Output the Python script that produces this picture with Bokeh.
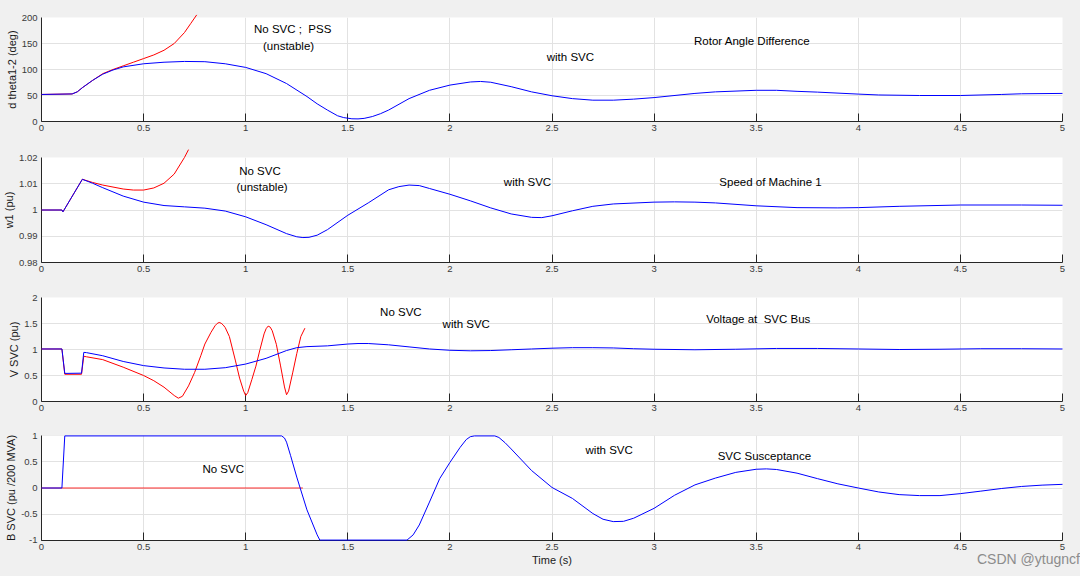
from bokeh.plotting import figure
from bokeh.layouts import column
from bokeh.models import Range1d, FixedTicker, Label, Div
from bokeh.embed import file_html
from bokeh.resources import INLINE

# ---------------- data ----------------
x_ticks = [0, 0.5, 1, 1.5, 2, 2.5, 3, 3.5, 4, 4.5, 5]
x_tick_labels = ["0", "0.5", "1", "1.5", "2", "2.5", "3", "3.5", "4", "4.5", "5"]

# Panel 1: rotor angle difference d theta1-2 (deg)
ang_ticks = [0, 50, 100, 150, 200]
ang_tick_labels = ["0", "50", "100", "150", "200"]
t_ang_svc = [0, 0.15, 0.175, 0.2, 0.25, 0.3, 0.35, 0.4, 0.5, 0.6, 0.7, 0.8, 0.9, 1.0, 1.1,
             1.2, 1.3, 1.35, 1.4, 1.45, 1.48, 1.52, 1.55, 1.58, 1.62, 1.66, 1.7, 1.8,
             1.9, 2.0, 2.1, 2.15, 2.2, 2.3, 2.4, 2.5, 2.6, 2.7, 2.8, 2.9, 3.0, 3.2, 3.3,
             3.5, 3.6, 3.7, 3.8, 4.0, 4.1, 4.3, 4.5, 4.7, 4.8, 5.0]
ang_svc = [52, 53, 57, 65, 79, 91, 99, 105, 111, 114, 115.5, 115, 111, 104, 92,
           73, 48, 34, 22, 11, 7.5, 5.2, 5, 6, 9.5, 15, 22, 44,
           60, 70, 76, 77, 75.5, 67, 57, 49.5, 44, 41, 41, 43, 46, 54, 57,
           60, 60, 58, 56.5, 52.7, 51, 50, 50, 52, 53.3, 54]
t_ang_nosvc = [0, 0.15, 0.175, 0.2, 0.25, 0.3, 0.35, 0.4, 0.45, 0.5, 0.55, 0.6, 0.65,
               0.7, 0.73, 0.76]
ang_nosvc = [52, 53, 57, 65, 79, 92, 100, 107, 114, 121, 128, 137, 150, 171, 188, 205]

# Panel 2: speed of machine 1 w1 (pu)
w_ticks = [0.98, 0.99, 1.0, 1.01, 1.02]
w_tick_labels = ["0.98", "0.99", "1", "1.01", "1.02"]
t_w_svc = [0, 0.1, 0.105, 0.2, 0.25, 0.3, 0.4, 0.5, 0.6, 0.7, 0.8, 0.9, 1.0, 1.1, 1.2,
           1.25, 1.28, 1.31, 1.35, 1.4, 1.5, 1.6, 1.7, 1.75, 1.8, 1.85, 1.9, 2.0, 2.1,
           2.2, 2.3, 2.4, 2.45, 2.5, 2.6, 2.7, 2.8, 3.0, 3.1, 3.2, 3.3, 3.5, 3.7, 3.9,
           4.0, 4.2, 4.5, 4.8, 5.0]
w_svc = [1.0, 1.0, 0.9993, 1.0117, 1.0102, 1.0085, 1.0053, 1.0030, 1.0017, 1.0012, 1.0007,
         0.9996, 0.9974, 0.9944, 0.9910, 0.9898, 0.9895, 0.9896, 0.9904, 0.9925, 0.9980,
         1.0027, 1.0077, 1.0089, 1.0095, 1.0093, 1.0082, 1.0060, 1.0035, 1.0008, 0.9985,
         0.9972, 0.9971, 0.9978, 0.9997, 1.0014, 1.0023, 1.0030, 1.0031, 1.0030, 1.0027,
         1.0016, 1.0009, 1.0008, 1.0009, 1.0014, 1.0019, 1.0019, 1.0018]
t_w_nosvc = [0, 0.1, 0.105, 0.2, 0.25, 0.3, 0.4, 0.45, 0.5, 0.55, 0.6, 0.65, 0.7, 0.72]
w_nosvc = [1.0, 1.0, 0.9993, 1.0117, 1.0105, 1.0095, 1.0080, 1.0076, 1.0076, 1.0084,
           1.0102, 1.0137, 1.0200, 1.0230]

# Panel 3: voltage at SVC bus V SVC (pu)
v_ticks = [0, 0.5, 1, 1.5, 2]
v_tick_labels = ["0", "0.5", "1", "1.5", "2"]
t_v_svc = [0, 0.1, 0.114, 0.196, 0.207, 0.22, 0.3, 0.4, 0.5, 0.6, 0.7, 0.8, 0.9, 1.0,
           1.1, 1.2, 1.25, 1.3, 1.4, 1.5, 1.55, 1.6, 1.7, 1.8, 1.9, 2.0, 2.1, 2.2, 2.3,
           2.4, 2.5, 2.6, 2.7, 2.8, 2.9, 3.0, 3.2, 3.4, 3.6, 3.8, 4.0, 4.2, 4.4, 4.6,
           4.8, 5.0]
v_svc = [1.01, 1.01, 0.54, 0.545, 0.945, 0.94, 0.88, 0.77, 0.69, 0.645, 0.62, 0.62, 0.65,
         0.72, 0.83, 0.98, 1.035, 1.055, 1.07, 1.105, 1.115, 1.115, 1.09, 1.05, 1.01,
         0.985, 0.975, 0.98, 0.995, 1.01, 1.025, 1.035, 1.035, 1.03, 1.015, 1.005, 0.995,
         1.005, 1.02, 1.02, 1.01, 1.0, 1.005, 1.015, 1.015, 1.01]
t_v_nosvc = [0, 0.1, 0.114, 0.196, 0.207, 0.22, 0.3, 0.4, 0.5, 0.55, 0.6, 0.65, 0.67,
             0.69, 0.72, 0.75, 0.78, 0.8, 0.83, 0.85, 0.86, 0.87, 0.88, 0.89, 0.9, 0.92,
             0.95, 0.97, 0.99, 1.0, 1.01, 1.03, 1.05, 1.07, 1.09, 1.1, 1.11, 1.12, 1.13,
             1.15, 1.17, 1.19, 1.2, 1.21, 1.23, 1.25, 1.27, 1.29]
v_nosvc = [1.01, 1.01, 0.524, 0.524, 0.87, 0.86, 0.805, 0.66, 0.5, 0.40, 0.275, 0.115,
           0.064, 0.1, 0.3, 0.56, 0.88, 1.105, 1.33, 1.457, 1.50, 1.52, 1.505, 1.47,
           1.42, 1.25, 0.78, 0.45, 0.2, 0.115, 0.17, 0.42, 0.68, 1.0, 1.3, 1.40, 1.45,
           1.43, 1.36, 1.1, 0.7, 0.28, 0.13, 0.2, 0.55, 0.92, 1.25, 1.41]

# Panel 4: SVC susceptance B SVC (pu /200 MVA)
b_ticks = [-1, -0.5, 0, 0.5, 1]
b_tick_labels = ["-1", "-0.5", "0", "0.5", "1"]
t_b_svc = [0, 0.1, 0.114, 1.176, 1.19, 1.2, 1.22, 1.25, 1.3, 1.35, 1.363, 1.79, 1.82,
           1.85, 1.9, 1.95, 2.0, 2.05, 2.08, 2.1, 2.12, 2.22, 2.24, 2.27, 2.3, 2.4, 2.5,
           2.6, 2.7, 2.75, 2.8, 2.85, 2.9, 3.0, 3.1, 3.2, 3.3, 3.4, 3.5, 3.55, 3.6, 3.7,
           3.8, 3.9, 4.0, 4.1, 4.2, 4.3, 4.4, 4.5, 4.6, 4.7, 4.8, 4.9, 5.0]
b_svc = [0, 0, 1, 1, 0.96, 0.88, 0.62, 0.21, -0.42, -0.9, -1, -1, -0.9,
         -0.71, -0.27, 0.18, 0.49, 0.78, 0.93, 0.985, 1, 1, 0.97, 0.87, 0.75, 0.335, 0.01,
         -0.2, -0.49, -0.6, -0.645, -0.64, -0.58, -0.39, -0.14, 0.06, 0.19, 0.30, 0.36,
         0.367, 0.355, 0.285, 0.18, 0.08, 0.0, -0.076, -0.127, -0.146, -0.146, -0.108,
         -0.06, -0.01, 0.03, 0.055, 0.07]
t_b_nosvc = [0, 1.28]
b_nosvc = [0, 0]

watermark = "CSDN @ytugncf"

# ---------------- styling helpers ----------------
FONT = "Liberation Sans"
BG = "#f0f0f0"
TXT = "#262626"
FIG_W = 1080
LEFT = 41
RIGHT = 18


def make_fig(height, top, bottom, y_lo, y_hi, yticks, ylabels, ylabel, xlabel=None):
    p = figure(width=FIG_W, height=height, x_range=Range1d(0, 5), y_range=Range1d(y_lo, y_hi),
               output_backend="svg", toolbar_location=None,
               min_border_left=LEFT, min_border_right=RIGHT,
               min_border_top=top, min_border_bottom=bottom)
    p.background_fill_color = "white"
    p.border_fill_color = BG
    p.outline_line_color = None

    p.xaxis.ticker = FixedTicker(ticks=x_ticks)
    p.xaxis.major_label_overrides = {t: s for t, s in zip(x_ticks, x_tick_labels)}
    p.yaxis.ticker = FixedTicker(ticks=yticks)
    p.yaxis.major_label_overrides = {t: s for t, s in zip(yticks, ylabels)}
    p.xgrid.ticker = FixedTicker(ticks=x_ticks)
    p.ygrid.ticker = FixedTicker(ticks=yticks)
    p.grid.grid_line_color = "#e2e2e2"
    p.grid.grid_line_width = 1

    for ax in (p.xaxis, p.yaxis):
        ax.axis_line_color = TXT
        ax.axis_line_width = 1
        ax.major_tick_out = 0
        ax.minor_tick_line_color = None
        ax.major_label_text_font = FONT
        ax.major_label_text_font_size = "9.5px"
        ax.major_label_text_color = "#3a3a3a"
        ax.axis_label_text_font = FONT
        ax.axis_label_text_font_size = "11px"
        ax.axis_label_text_font_style = "normal"
        ax.axis_label_text_color = "#1a1a1a"
    p.xaxis.major_tick_in = 8
    p.xaxis.major_tick_line_color = TXT
    p.yaxis.major_tick_in = 0
    p.yaxis.major_tick_line_color = None
    p.xaxis.major_label_standoff = 3
    p.yaxis.major_label_standoff = 4
    p.yaxis.axis_label = ylabel
    p.yaxis.axis_label_standoff = 1
    if xlabel:
        p.xaxis.axis_label = xlabel
        p.xaxis.axis_label_standoff = 1
    return p


def note(p, x, y, text, size="11.5px", color="black"):
    p.add_layout(Label(x=x, y=y, text=text, text_font=FONT, text_font_size=size,
                       text_color=color, text_align="center", text_baseline="middle"))


def curve(p, xs, ys, color, width=1, alpha=1.0):
    r = p.line(xs, ys, line_color=color, line_width=width, line_alpha=alpha)
    r.level = "overlay"
    return r


# Panel 1
p1 = make_fig(139, 17, 18, 0, 200, ang_ticks, ang_tick_labels, "d theta1-2 (deg)")
curve(p1, t_ang_nosvc, ang_nosvc, "#ff0000")
curve(p1, t_ang_svc, ang_svc, "#0000ff")
note(p1, 1.23, 177, "No SVC ;\u00a0 PSS")
note(p1, 1.21, 146, "(unstable)")
note(p1, 2.59, 125, "with SVC")
note(p1, 3.48, 154, "Rotor Angle Difference")

# Panel 2
p2 = make_fig(140, 18, 17, 0.98, 1.02, w_ticks, w_tick_labels, "w1 (pu)")
curve(p2, t_w_nosvc, w_nosvc, "#ff0000")
curve(p2, t_w_svc, w_svc, "#0000ff")
note(p2, 1.07, 1.015, "No SVC")
note(p2, 1.08, 1.0089, "(unstable)")
note(p2, 2.38, 1.0108, "with SVC")
note(p2, 3.57, 1.0108, "Speed of Machine 1")

# Panel 3
p3 = make_fig(138, 18, 16, 0, 2, v_ticks, v_tick_labels, "V SVC (pu)")
curve(p3, t_v_nosvc, v_nosvc, "#ff0000")
curve(p3, t_v_svc, v_svc, "#0000ff")
note(p3, 1.76, 1.73, "No SVC")
note(p3, 2.08, 1.5, "with SVC")
note(p3, 3.51, 1.58, "Voltage at\u00a0 SVC Bus")

# Panel 4
p4 = make_fig(159, 18, 36, -1.008, 1.008, b_ticks, b_tick_labels, "B SVC (pu /200 MVA)", "Time (s)")
curve(p4, t_b_nosvc, b_nosvc, "#ff0000", width=1.6, alpha=0.55)
curve(p4, t_b_svc, b_svc, "#0000ff")
note(p4, 0.89, 0.37, "No SVC")
note(p4, 2.78, 0.73, "with SVC")
note(p4, 3.54, 0.62, "SVC Susceptance")

mark = Div(text=watermark, width=100, height=18,
           styles={"position": "absolute", "left": "972px", "top": "544px",
                   "font-family": FONT, "font-size": "14px", "color": "#8c8c8c",
                   "white-space": "nowrap", "z-index": "10"})

layout = column(p1, p2, p3, p4, mark, spacing=0, styles={"background-color": BG})

open("out.html", "w").write(file_html(layout, INLINE))
